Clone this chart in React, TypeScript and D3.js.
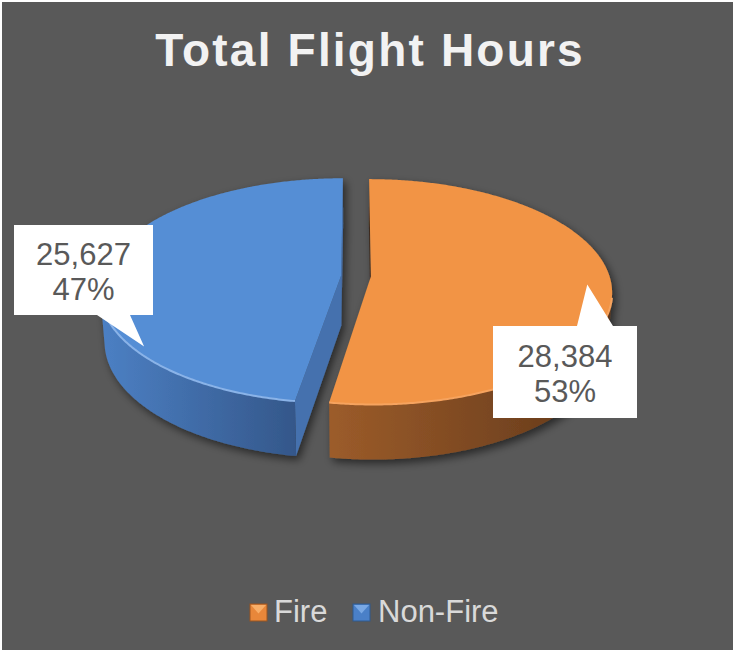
import React from 'react';
import * as d3 from 'd3';

// ---- data ----
const categories = ['Fire', 'Non-Fire'];
const values = [28384, 25627];
const title = 'Total Flight Hours';

// ---- styles ----
const topColors = ['#F29444', '#558ED5'];
const sideLight = ['#9C5C2A', '#4C80C4'];
const sideDark = ['#60371A', '#34578A'];
const cutColors = ['#3E2A1C', '#4571AE'];
const rimColors = ['#F6A35E', '#8AB3E8'];
const legendFill = ['#E8873A', '#4A80C8'];
const legendTop = ['#F8AE68', '#79A8E4'];
const legendStroke = ['#9A5420', '#2F5A90'];

const W = 735;
const H = 652;
const CX = 356;
const CY = 276;
const PHI = Math.asin(0.463);
const DIST = 6.56;
const FOCAL = 1565;
const THICK = 0.24;
const EXPLODE = 0.0625;
const FONT = '"Liberation Sans", Arial, sans-serif';

type P3 = [number, number, number];
const COS = Math.cos(PHI);
const SIN = Math.sin(PHI);
const CAM: P3 = [0, DIST * SIN, -DIST * COS];

function project([x, y, z]: P3): [number, number] {
  const depth = DIST + z * COS - y * SIN;
  const yc = y * COS + z * SIN;
  return [CX + (FOCAL * x) / depth, CY - (FOCAL * yc) / depth];
}

const lineGen = d3.line<[number, number]>().x((d) => d[0]).y((d) => d[1]);
const poly = (pts: [number, number][]) => (lineGen(pts) || '') + 'Z';

const pie = d3.pie<number>().sort(null).value((d) => d);
const arcs = pie(values);
const total = d3.sum(values);

// callout layout (boxes), tip anchored on slice surface
const callouts = [
  { box: { x: 493, y: 326, w: 144, h: 92 }, base: [577, 613], side: 'top', frac: 0.5, r: 0.9 },
  { box: { x: 14, y: 225, w: 139, h: 90 }, base: [97, 130], side: 'bottom', frac: 0.25, r: 0.96 },
];

function sliceGeom(i: number) {
  const a = arcs[i];
  const a0 = a.startAngle;
  const a1 = a.endAngle;
  const mid = (a0 + a1) / 2;
  const ex = EXPLODE * Math.sin(mid);
  const ez = EXPLODE * Math.cos(mid);
  const pt = (t: number, r: number, y: number): P3 => [ex + r * Math.sin(t), y, ez + r * Math.cos(t)];
  const n = Math.ceil((a1 - a0) / (Math.PI / 360));
  const angles = d3.range(n + 1).map((k) => a0 + ((a1 - a0) * k) / n);
  const vTop = pt(0, 0, 0);
  const vBot = pt(0, 0, -THICK);
  const topPts = [project(vTop), ...angles.map((t) => project(pt(t, 1, 0)))];
  const visible = (t: number) => {
    const p = pt(t, 1, 0);
    const nx = Math.sin(t);
    const nz = Math.cos(t);
    return nx * (CAM[0] - p[0]) + nz * (CAM[2] - p[2]) > 0;
  };
  const visAngles = angles.filter(visible);
  const sideTop = visAngles.map((t) => project(pt(t, 1, 0)));
  const sideBot = visAngles.map((t) => project(pt(t, 1, -THICK))).reverse();
  const sidePts = [...sideTop, ...sideBot];
  const xs = sidePts.map((p) => p[0]);
  const cuts: { pts: [number, number][] }[] = [];
  const cutVisible = (nrm: [number, number]) =>
    nrm[0] * (CAM[0] - vTop[0]) + nrm[1] * (CAM[2] - vTop[2]) > 0;
  const e0: [number, number] = [-Math.cos(a0), Math.sin(a0)];
  const e1: [number, number] = [Math.cos(a1), -Math.sin(a1)];
  [[a0, e0], [a1, e1]].forEach(([edge, nrm]: any) => {
    if (cutVisible(nrm)) {
      cuts.push({
        pts: [project(vTop), project(pt(edge, 1, 0)), project(pt(edge, 1, -THICK)), project(vBot)],
      });
    }
  });
  const co = callouts[i];
  const tipAngle = a0 + (a1 - a0) * co.frac;
  const tip = project(pt(tipAngle, co.r, 0));
  return {
    top: poly(topPts),
    side: sidePts.length ? poly(sidePts) : '',
    rim: sideTop.length ? lineGen(sideTop) || '' : '',
    sideX: [d3.min(xs) ?? 0, d3.max(xs) ?? 0],
    cuts,
    tip,
  };
}

const geoms = arcs.map((_, i) => sliceGeom(i));

function calloutPath(i: number) {
  const c = callouts[i];
  const { x, y, w, h } = c.box;
  const [b1, b2] = c.base;
  const [tx, ty] = geoms[i].tip;
  if (c.side === 'top') {
    return `M${x},${y}H${b1}L${tx},${ty}L${b2},${y}H${x + w}V${y + h}H${x}Z`;
  }
  return `M${x},${y}H${x + w}V${y + h}H${b2}L${tx},${ty}L${b1},${y + h}H${x}Z`;
}

const fmtNum = d3.format(',');
const fmtPct = d3.format('.0%');

export default function App() {
  const legendItems = [
    { mx: 250, tx: 274 },
    { mx: 353, tx: 378 },
  ];
  return (
    <svg
      width={W}
      height={H}
      style={{ position: 'absolute', left: 0, top: 0, display: 'block' }}
      xmlns="http://www.w3.org/2000/svg"
    >
      <defs>
        <filter id="shadow" x="-20%" y="-20%" width="140%" height="150%">
          <feDropShadow dx="3" dy="4" stdDeviation="4" floodColor="#000" floodOpacity="0.55" />
        </filter>
        {geoms.map((g, i) => (
          <linearGradient
            key={i}
            id={`side${i}`}
            gradientUnits="userSpaceOnUse"
            x1={g.sideX[0]}
            x2={g.sideX[1]}
            y1={0}
            y2={0}
          >
            <stop offset="0" stopColor={sideLight[i]} />
            <stop offset="1" stopColor={sideDark[i]} />
          </linearGradient>
        ))}
      </defs>
      <rect x={0} y={0} width={W} height={H} fill="#ffffff" />
      <rect x={2} y={2} width={W - 4} height={H - 4} fill="#595959" />
      <text
        x={370}
        y={66}
        textAnchor="middle"
        fontFamily={FONT}
        fontWeight="bold"
        fontSize={46}
        letterSpacing={2.2}
        fill="#F2F2F2"
      >
        {title}
      </text>
      {[1, 0].map((i) => (
        <g key={i} filter="url(#shadow)">
          {geoms[i].cuts.map((c, k) => (
            <path key={k} d={poly(c.pts)} fill={cutColors[i]} />
          ))}
          <path d={geoms[i].side} fill={`url(#side${i})`} />
          <path d={geoms[i].top} fill={topColors[i]} />
          <path d={geoms[i].rim} fill="none" stroke={rimColors[i]} strokeWidth={2} />
        </g>
      ))}
      {arcs.map((a, i) => {
        const c = callouts[i];
        const cx = c.box.x + c.box.w / 2;
        const cy = c.box.y + c.box.h / 2;
        return (
          <g key={i}>
            <path d={calloutPath(i)} fill="#ffffff" />
            <text x={cx} y={cy - 5} textAnchor="middle" fontFamily={FONT} fontSize={31} fill="#595959">
              {fmtNum(a.data)}
            </text>
            <text x={cx} y={cy + 29.5} textAnchor="middle" fontFamily={FONT} fontSize={31} fill="#595959">
              {fmtPct(a.data / total)}
            </text>
          </g>
        );
      })}
      {categories.map((c, i) => {
        const { mx, tx } = legendItems[i];
        const my = 604;
        const s = 17;
        return (
          <g key={c}>
            <rect x={mx} y={my} width={s} height={s} fill={legendFill[i]} stroke={legendStroke[i]} strokeWidth={1} />
            <path
              d={`M${mx + 1},${my + 1}L${mx + s - 1},${my + 1}L${mx + s / 2},${my + s / 2 + 1}Z`}
              fill={legendTop[i]}
            />
            <text x={tx} y={622} fontFamily={FONT} fontSize={31} fill="#D9D9D9">
              {c}
            </text>
          </g>
        );
      })}
    </svg>
  );
}
